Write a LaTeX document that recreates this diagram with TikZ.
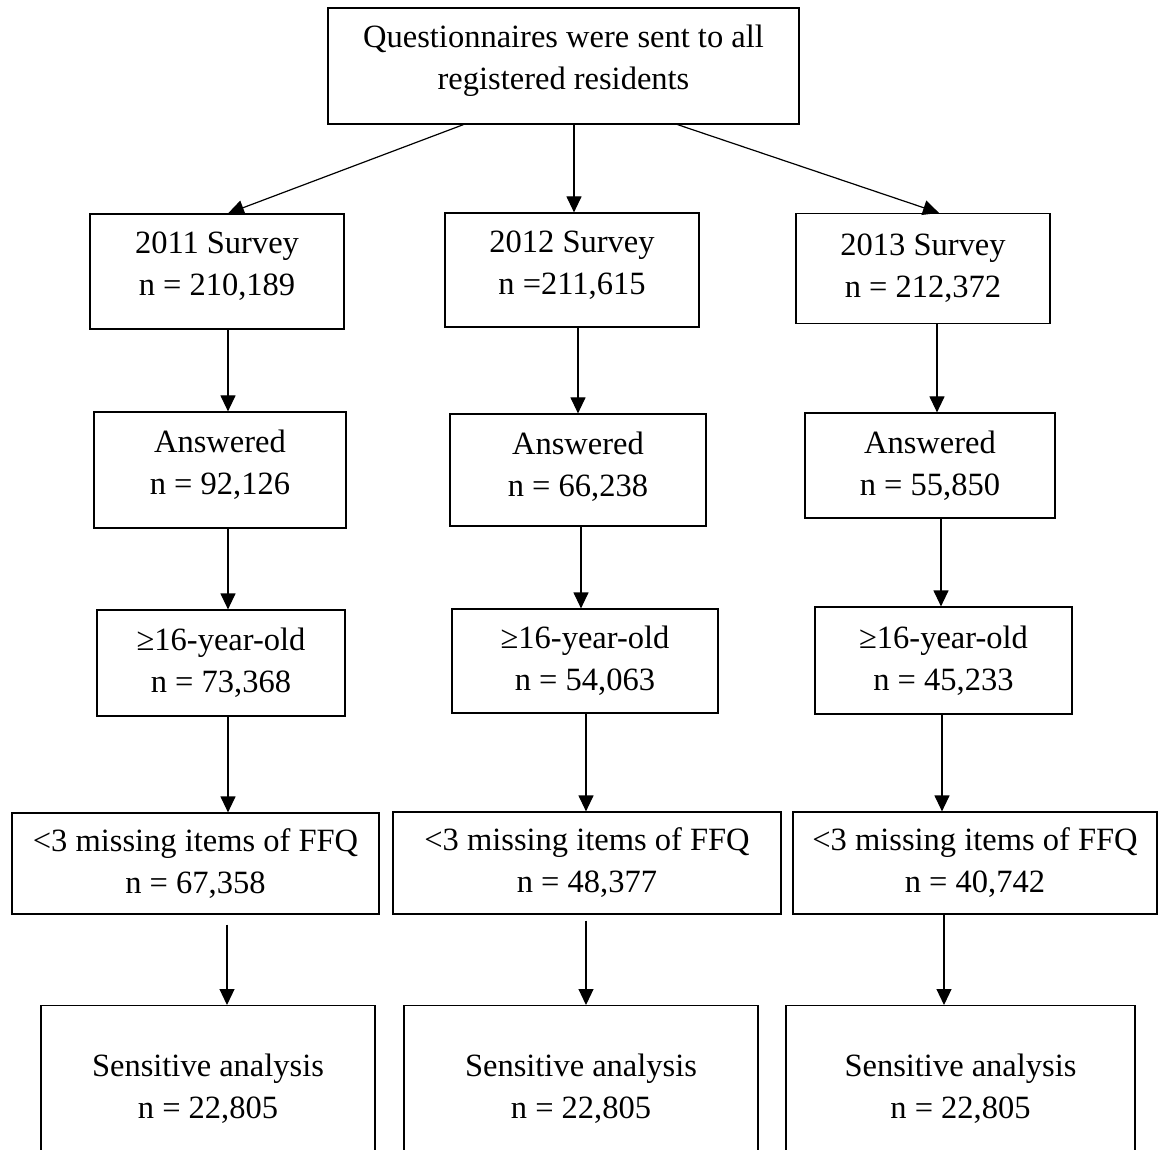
\documentclass[tikz,border=0pt]{standalone}
\usepackage{fontspec}
\setmainfont{Liberation Serif}
\usetikzlibrary{arrows.meta}

\begin{document}
\begin{tikzpicture}[
   x=1pt, y=-1pt,
   stage/.style={draw, line width=1.2pt, align=center, inner sep=0pt,
      font=\fontsize{32.5}{42}\selectfont},
   arrow/.style={-{Triangle[length=16pt,width=15pt]}, line width=1.2pt}
]
\useasboundingbox (0,0) rectangle (1163,1150);

\node[stage, minimum width=471pt, minimum height=116pt, text depth=17pt] (Q) at (563.5,66)
   {Questionnaires were sent to all\\registered residents};

\node[stage, minimum width=254pt, minimum height=115pt, text depth=15pt] (Sv11) at (217,271.5)
   {2011 Survey\\n = 210,189};
\node[stage, minimum width=254pt, minimum height=114pt, text depth=15pt] (Sv12) at (572,270)
   {2012 Survey\\n =211,615};
\node[stage, minimum width=254pt, minimum height=110pt] (Sv13) at (923,268.5)
   {2013 Survey\\n = 212,372};

\node[stage, minimum width=252pt, minimum height=116pt, text depth=16pt] (Ans11) at (220,470)
   {Answered\\n = 92,126};
\node[stage, minimum width=256pt, minimum height=112pt, text depth=12pt] (Ans12) at (578,470)
   {Answered\\n = 66,238};
\node[stage, minimum width=250pt, minimum height=105pt] (Ans13) at (930,465.5)
   {Answered\\n = 55,850};

\node[stage, minimum width=248pt, minimum height=106pt] (Age11) at (221,663)
   {≥16-year-old\\n = 73,368};
\node[stage, minimum width=266pt, minimum height=104pt] (Age12) at (585,661)
   {≥16-year-old\\n = 54,063};
\node[stage, minimum width=257pt, minimum height=107pt] (Age13) at (943.5,660.5)
   {≥16-year-old\\n = 45,233};

\node[stage, minimum width=367pt, minimum height=101pt] (Ffq11) at (195.5,863.5)
   {<3 missing items of FFQ\\n = 67,358};
\node[stage, minimum width=388pt, minimum height=102pt] (Ffq12) at (587,863)
   {<3 missing items of FFQ\\n = 48,377};
\node[stage, minimum width=364pt, minimum height=102pt] (Ffq13) at (975,863)
   {<3 missing items of FFQ\\n = 40,742};

\node[stage, anchor=north, minimum width=334pt, minimum height=166pt] (Sen11) at (208,1005)
   {Sensitive analysis\\n = 22,805};
\node[stage, anchor=north, minimum width=354pt, minimum height=166pt] (Sen12) at (581,1005)
   {Sensitive analysis\\n = 22,805};
\node[stage, anchor=north, minimum width=349pt, minimum height=166pt] (Sen13) at (960.5,1005)
   {Sensitive analysis\\n = 22,805};

% from the mailing to the three surveys
\draw[arrow] ([xshift=-100pt]Q.south) -- ([xshift=11pt]Sv11.north);
\draw[arrow] (Q.south -| 574,0) -- (Sv12.north -| 574,0);
\draw[arrow] ([xshift=114pt]Q.south) -- ([xshift=16pt]Sv13.north);

% 2011
\draw[arrow] (Sv11.south -| 228,0) -- (Ans11.north -| 228,0);
\draw[arrow] (Ans11.south -| 228,0) -- (Age11.north -| 228,0);
\draw[arrow] (Age11.south -| 228,0) -- (Ffq11.north -| 228,0);
\draw[arrow, shorten <=10pt] (Ffq11.south -| 227,0) -- (Sen11.north -| 227,0);

% 2012
\draw[arrow] (Sv12.south -| 578,0) -- (Ans12.north -| 578,0);
\draw[arrow] (Ans12.south -| 581,0) -- (Age12.north -| 581,0);
\draw[arrow] (Age12.south -| 586,0) -- (Ffq12.north -| 586,0);
\draw[arrow, shorten <=6pt] (Ffq12.south -| 586,0) -- (Sen12.north -| 586,0);

% 2013
\draw[arrow] (Sv13.south -| 937,0) -- (Ans13.north -| 937,0);
\draw[arrow] (Ans13.south -| 941,0) -- (Age13.north -| 941,0);
\draw[arrow] (Age13.south -| 942,0) -- (Ffq13.north -| 942,0);
\draw[arrow] (Ffq13.south -| 944,0) -- (Sen13.north -| 944,0);
\end{tikzpicture}
\end{document}
